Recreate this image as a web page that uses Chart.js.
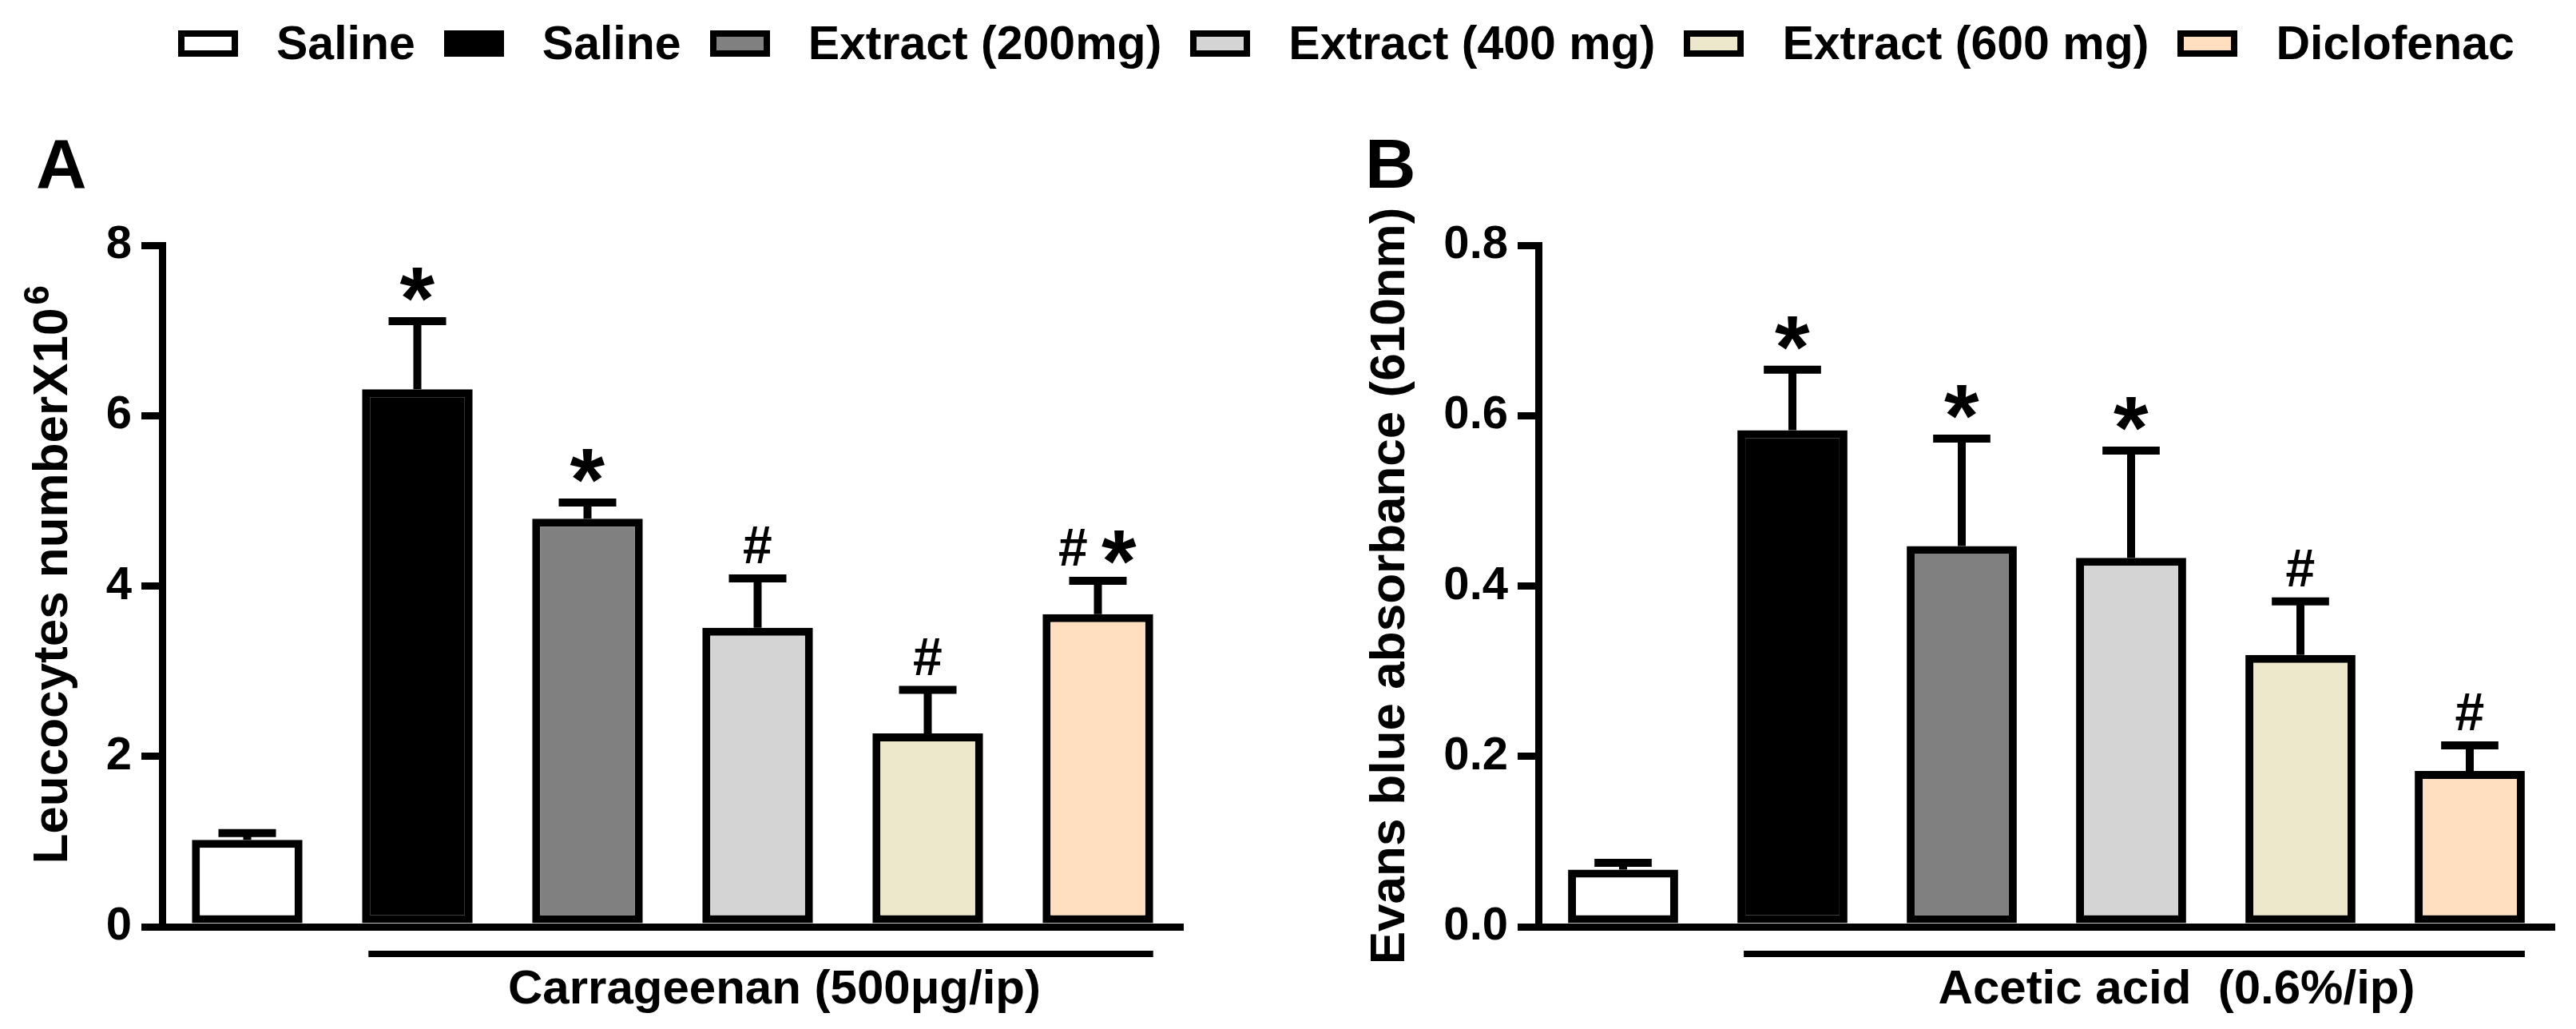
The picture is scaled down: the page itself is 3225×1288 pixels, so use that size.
<html>
    <head>
        <meta charset="UTF-8">
        <title>Leucocytes and Evans blue</title>

        <script src="https://cdn.jsdelivr.net/npm/chart.js"></script>

        <style>
            body {
                margin: 0;
                width: 3225px;
                height: 1288px;
                background: #ffffff;
                position: relative;
                overflow: hidden;
                font-family: 'Liberation Sans', Arial, sans-serif;
                font-weight: bold;
                color: #000000;
            }

            .legend {
                position: absolute;
                left: 223px;
                top: 20px;
                display: flex;
                align-items: center;
                font-size: 59px;
                line-height: 68px;
                white-space: pre;
            }

            .legend .item {
                display: flex;
                align-items: center;
                margin-right: 36px;
            }

            .legend .box {
                width: 75px;
                height: 33px;
                box-sizing: border-box;
                border: 8px solid #000000;
                margin-right: 48px;
            }

            .letter {
                position: absolute;
                font-size: 88px;
                line-height: 88px;
            }

            .panel {
                position: absolute;
                top: 0;
                height: 1288px;
            }
        </style>
    </head>

    <body>
        <div class='legend' id='legend'></div>
        <div class='letter' style='left: 45px; top: 161px;'>A</div>
        <div class='letter' style='left: 1709px; top: 161px;'>B</div>
        <div class='panel' style='left: 0; width: 1600px;'>
            <canvas id='chartA'></canvas>
        </div>
        <div class='panel' style='left: 1600px; width: 1625px;'>
            <canvas id='chartB'></canvas>
        </div>

        <script>
            // groups (same in both panels)
            const groups = ['Saline', 'Saline', 'Extract (200mg)', 'Extract (400 mg)', 'Extract (600 mg)', 'Diclofenac'];
            const barColors = ['#ffffff', '#000000', '#808080', '#d4d4d4', '#ede7cb', '#ffdfc0'];

            // panel A: leucocytes
            const leucocytes = [1.02, 6.31, 4.79, 3.51, 2.27, 3.67];
            const leucocytesErr = [0.08, 0.80, 0.19, 0.58, 0.51, 0.39];
            const leucocytesMarks = ['', '*', '*', '#', '#', '#*'];
            const leucocytesTicks = [0, 2, 4, 6, 8];

            // panel B: evans blue
            const evansBlue = [0.067, 0.583, 0.447, 0.433, 0.319, 0.183];
            const evansBlueErr = [0.008, 0.071, 0.126, 0.126, 0.063, 0.030];
            const evansBlueMarks = ['', '*', '*', '*', '#', '#'];
            const evansBlueTicks = [0, 0.2, 0.4, 0.6, 0.8];

            const FONT = "'Liberation Sans', Arial, sans-serif";
            const TITLE_SIZE = 62;
            Chart.defaults.font.family = FONT;
            Chart.defaults.font.weight = 'bold';
            Chart.defaults.color = '#000000';

            // legend
            const legend = document.getElementById('legend');
            for (let i in groups) {
                const item = document.createElement('div');
                item.className = 'item';
                const box = document.createElement('div');
                box.className = 'box';
                box.style.background = barColors[i];
                const label = document.createElement('span');
                label.textContent = groups[i];
                item.appendChild(box);
                item.appendChild(label);
                legend.appendChild(item);
            }

            function markFont(ch) {
                return (ch === '*' ? 'bold 112px ' : 'bold 66px ') + FONT;
            }

            // error bars, significance marks, treatment bracket, title superscript
            const extrasPlugin = {
                id: 'extras',
                afterDatasetsDraw(chart, args, opts) {
                    const ctx = chart.ctx;
                    const meta = chart.getDatasetMeta(0);
                    const yScale = chart.scales.y;
                    ctx.save();
                    ctx.strokeStyle = '#000000';
                    ctx.fillStyle = '#000000';
                    ctx.lineWidth = 10;
                    ctx.lineCap = 'butt';
                    meta.data.forEach((bar, i) => {
                        const yTop = yScale.getPixelForValue(opts.values[i] + opts.errors[i]);
                        const half = bar.width * 0.26;
                        ctx.beginPath();
                        ctx.moveTo(bar.x, bar.y);
                        ctx.lineTo(bar.x, yTop);
                        ctx.moveTo(bar.x - half, yTop);
                        ctx.lineTo(bar.x + half, yTop);
                        ctx.stroke();

                        // marks
                        const mark = opts.marks[i];
                        if (!mark) return;
                        const parts = [];
                        let total = 0;
                        for (const ch of mark) {
                            ctx.font = markFont(ch);
                            const m = ctx.measureText(ch);
                            const w = m.actualBoundingBoxLeft + m.actualBoundingBoxRight;
                            parts.push({ch: ch, m: m, w: w});
                            total += w;
                        }
                        const gap = 18;
                        total += gap * (parts.length - 1);
                        let x = bar.x - total / 2;
                        const cy = yTop - (mark === '*' ? 46 : 42);
                        parts.forEach(p => {
                            ctx.font = markFont(p.ch);
                            ctx.textBaseline = 'alphabetic';
                            ctx.textAlign = 'left';
                            const base = cy + (p.m.actualBoundingBoxAscent - p.m.actualBoundingBoxDescent) / 2;
                            ctx.fillText(p.ch, x + p.m.actualBoundingBoxLeft, base);
                            x += p.w + gap;
                        });
                    });

                    // bracket under the treated groups
                    const first = meta.data[1];
                    const last = meta.data[meta.data.length - 1];
                    const x1 = first.x - first.width / 2 + 8;
                    const x2 = last.x + last.width / 2;
                    const yb = chart.chartArea.bottom + 34;
                    ctx.lineWidth = 8;
                    ctx.beginPath();
                    ctx.moveTo(x1, yb);
                    ctx.lineTo(x2, yb);
                    ctx.stroke();
                    ctx.font = 'bold 60px ' + FONT;
                    ctx.textAlign = 'center';
                    ctx.textBaseline = 'middle';
                    ctx.fillText(opts.label, (x1 + x2) / 2 + opts.labelShift, chart.chartArea.bottom + 79);

                    // superscript after the y title
                    if (opts.sup) {
                        ctx.font = 'bold ' + TITLE_SIZE + 'px ' + FONT;
                        const w = ctx.measureText(yScale.options.title.text).width;
                        const titleX = yScale.left + opts.titlePad + TITLE_SIZE * 1.2 / 2;
                        const cy = (yScale.top + yScale.bottom) / 2;
                        ctx.translate(titleX, cy - w / 2);
                        ctx.rotate(-Math.PI / 2);
                        ctx.font = 'bold 44px ' + FONT;
                        ctx.textAlign = 'left';
                        ctx.textBaseline = 'alphabetic';
                        ctx.fillText(opts.sup, 4, -6);
                    }
                    ctx.restore();
                }
            };

            function createChart(id, cfg) {
                const ctx = document.getElementById(id);
                const data = {
                    labels: groups,
                    datasets: [
                        {
                            data: cfg.values,
                            backgroundColor: barColors,
                            borderColor: '#000000',
                            borderWidth: 10,
                            borderSkipped: false,
                            categoryPercentage: 1.0,
                            barPercentage: 0.65
                        }
                    ]
                };
                const config = {
                    type: 'bar',
                    data: data,
                    plugins: [extrasPlugin],
                    options: {
                        responsive: true,
                        maintainAspectRatio: false,
                        animation: false,
                        layout: {
                            padding: {left: 0, right: cfg.padRight, top: 307, bottom: 128}
                        },
                        plugins: {
                            legend: { display: false },
                            tooltip: { enabled: false },
                            extras: {
                                values: cfg.values,
                                errors: cfg.errors,
                                marks: cfg.marks,
                                label: cfg.bracket,
                                labelShift: cfg.labelShift,
                                sup: cfg.sup,
                                titlePad: cfg.titlePad
                            }
                        },
                        scales: {
                            x: {
                                type: 'category',
                                ticks: { display: false },
                                grid: { display: false },
                                border: { display: true, width: 9, color: '#000000' },
                                afterFit(scale) { scale.height = 0; }
                            },
                            y: {
                                min: 0,
                                max: cfg.ticks[cfg.ticks.length - 1],
                                afterBuildTicks(scale) {
                                    scale.ticks = cfg.ticks.map(v => ({value: v}));
                                },
                                afterFit(scale) { scale.width = cfg.axisLeft; },
                                ticks: {
                                    font: { size: 58, weight: 'bold' },
                                    color: '#000000',
                                    padding: 12,
                                    callback: cfg.format
                                },
                                grid: {
                                    display: true,
                                    drawOnChartArea: false,
                                    drawTicks: true,
                                    tickLength: 26,
                                    tickWidth: 9,
                                    lineWidth: 9,
                                    color: '#000000',
                                    tickColor: '#000000'
                                },
                                border: { display: true, width: 9, color: '#000000' },
                                title: {
                                    display: true,
                                    text: cfg.title,
                                    font: { size: TITLE_SIZE, weight: 'bold' },
                                    color: '#000000',
                                    padding: { top: cfg.titlePad, bottom: 0 }
                                }
                            }
                        }
                    }
                };
                new Chart(ctx, config);
            }

            createChart('chartA', {
                values: leucocytes,
                errors: leucocytesErr,
                marks: leucocytesMarks,
                ticks: leucocytesTicks,
                format: v => String(v),
                title: 'Leucocytes numberX10',
                sup: '6',
                bracket: 'Carrageenan (500μg/ip)',
                labelShift: 17,
                axisLeft: 203,
                padRight: 119,
                titlePad: 30
            });

            createChart('chartB', {
                values: evansBlue,
                errors: evansBlueErr,
                marks: evansBlueMarks,
                ticks: evansBlueTicks,
                format: v => Number(v).toFixed(1),
                title: 'Evans blue absorbance (610nm)',
                sup: '',
                bracket: 'Acetic acid  (0.6%/ip)',
                labelShift: 53,
                axisLeft: 326,
                padRight: 27,
                titlePad: 104
            });
        </script>
    </body>
</html>
